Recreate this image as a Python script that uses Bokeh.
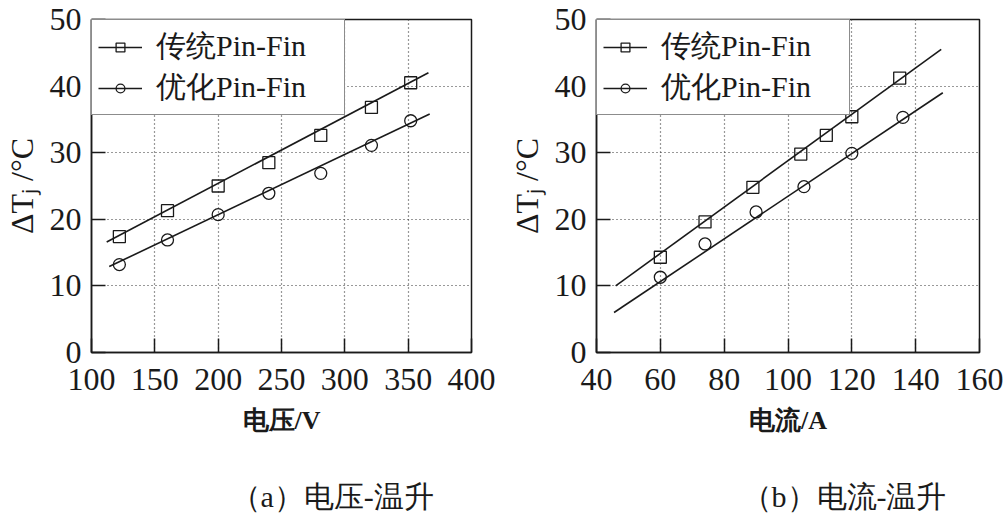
from bokeh.plotting import figure
from bokeh.layouts import row
from bokeh.models import Range1d, FixedTicker, Legend, LegendItem, Title
from bokeh.embed import file_html
from bokeh.resources import INLINE

# ---------------- data: (a) voltage vs temperature rise ----------------
volt_sq_x = [122, 160, 200, 240, 281, 321, 352]
volt_sq_y = [17.4, 21.3, 25.0, 28.5, 32.6, 36.8, 40.5]
volt_ci_x = [122, 160, 200, 240, 281, 321, 352]
volt_ci_y = [13.2, 16.9, 20.7, 23.9, 26.9, 31.1, 34.8]
volt_sq_fit_x = [112, 366]
volt_sq_fit_y = [16.6, 42.0]
volt_ci_fit_x = [114, 367]
volt_ci_fit_y = [12.9, 35.8]

# ---------------- data: (b) current vs temperature rise ----------------
curr_sq_x = [60, 74, 89, 104, 112, 120, 135]
curr_sq_y = [14.3, 19.6, 24.8, 29.8, 32.6, 35.4, 41.2]
curr_ci_x = [60, 74, 90, 105, 120, 136]
curr_ci_y = [11.3, 16.3, 21.1, 24.9, 29.9, 35.3]
curr_sq_fit_x = [46, 148]
curr_sq_fit_y = [10.0, 45.5]
curr_ci_fit_x = [45.5, 148.5]
curr_ci_fit_y = [6.0, 39.0]

series_labels = ["传统Pin-Fin", "优化Pin-Fin"]
y_ticks = [0, 10, 20, 30, 40, 50]
volt_ticks = [100, 150, 200, 250, 300, 350, 400]
curr_ticks = [40, 60, 80, 100, 120, 140, 160]
y_label = "ΔTⱼ /°C"
x_labels = ["电压/V", "电流/A"]
captions = ["（a）电压-温升", "（b）电流-温升"]

FONT = "Liberation Serif"
INK = "#1a1a1a"


def make_panel(xr, xticks, xlabel, caption, sq_x, sq_y, ci_x, ci_y,
               sq_fx, sq_fy, ci_fx, ci_fy, bl, fw, br, cap_off):
    p = figure(x_range=Range1d(*xr), y_range=Range1d(0, 50),
               frame_width=fw, frame_height=333,
               min_border_left=bl, min_border_right=br,
               min_border_top=19, min_border_bottom=163,
               output_backend="svg", toolbar_location=None)
    p.background_fill_color = "white"
    p.border_fill_color = "white"
    p.outline_line_color = INK
    p.outline_line_width = 1.5

    for ax in (p.xaxis[0], p.yaxis[0]):
        ax.axis_line_color = INK
        ax.axis_line_width = 1.5
        ax.major_tick_in = 14
        ax.major_tick_out = 0
        ax.major_tick_line_color = INK
        ax.major_tick_line_width = 1.5
        ax.minor_tick_line_color = None
        ax.major_label_text_font = FONT
        ax.major_label_text_font_size = "32px"
        ax.major_label_text_color = INK
        ax.axis_label_text_font = FONT
        ax.axis_label_text_color = INK
    p.xaxis.ticker = FixedTicker(ticks=xticks)
    p.yaxis.ticker = FixedTicker(ticks=y_ticks)
    p.xaxis.major_label_standoff = 16
    p.yaxis.major_label_standoff = 10
    p.xaxis.axis_label = xlabel
    p.xaxis.axis_label_text_font_size = "26px"
    p.xaxis.axis_label_text_font_style = "bold"
    p.xaxis.axis_label_standoff = 13
    p.yaxis.axis_label = y_label
    p.yaxis.axis_label_text_font_size = "32px"
    p.yaxis.axis_label_text_font_style = "normal"
    p.yaxis.axis_label_standoff = 7

    for g in (p.xgrid[0], p.ygrid[0]):
        g.grid_line_color = "#333333"
        g.grid_line_dash = "1 3"
        g.grid_line_width = 1.2
    p.xgrid.ticker = FixedTicker(ticks=xticks)
    p.ygrid.ticker = FixedTicker(ticks=y_ticks)

    l1 = p.line(sq_fx, sq_fy, line_color=INK, line_width=1.6)
    s1 = p.scatter(sq_x, sq_y, marker="square", size=12, line_color=INK,
                   line_width=1.3, fill_alpha=0)
    l2 = p.line(ci_fx, ci_fy, line_color=INK, line_width=1.6)
    s2 = p.scatter(ci_x, ci_y, marker="circle", size=12, line_color=INK,
                   line_width=1.3, fill_alpha=0)

    legend = Legend(items=[LegendItem(label=series_labels[0], renderers=[l1, s1]),
                           LegendItem(label=series_labels[1], renderers=[l2, s2])],
                    location="top_left", margin=0, padding=6, spacing=0,
                    glyph_width=44, glyph_height=22, label_standoff=14,
                    label_text_font=FONT, label_text_font_size="30px",
                    label_text_color=INK, label_width=182,
                    border_line_color=INK, border_line_width=1.5,
                    background_fill_color="white", background_fill_alpha=1.0)
    p.add_layout(legend, "center")

    t = Title(text=caption, align="left", offset=cap_off, text_font=FONT,
              text_font_size="30px", text_font_style="normal", text_color=INK,
              standoff=80)
    p.add_layout(t, "below")
    return p


pa = make_panel((100, 400), volt_ticks, x_labels[0], captions[0],
                volt_sq_x, volt_sq_y, volt_ci_x, volt_ci_y,
                volt_sq_fit_x, volt_sq_fit_y, volt_ci_fit_x, volt_ci_fit_y,
                bl=85, fw=380, br=34, cap_off=139)
pb = make_panel((40, 160), curr_ticks, x_labels[1], captions[1],
                curr_sq_x, curr_sq_y, curr_ci_x, curr_ci_y,
                curr_sq_fit_x, curr_sq_fit_y, curr_ci_fit_x, curr_ci_fit_y,
                bl=87, fw=383, br=25, cap_off=145)

layout = row(pa, pb)
open("out.html", "w").write(file_html(layout, INLINE))
